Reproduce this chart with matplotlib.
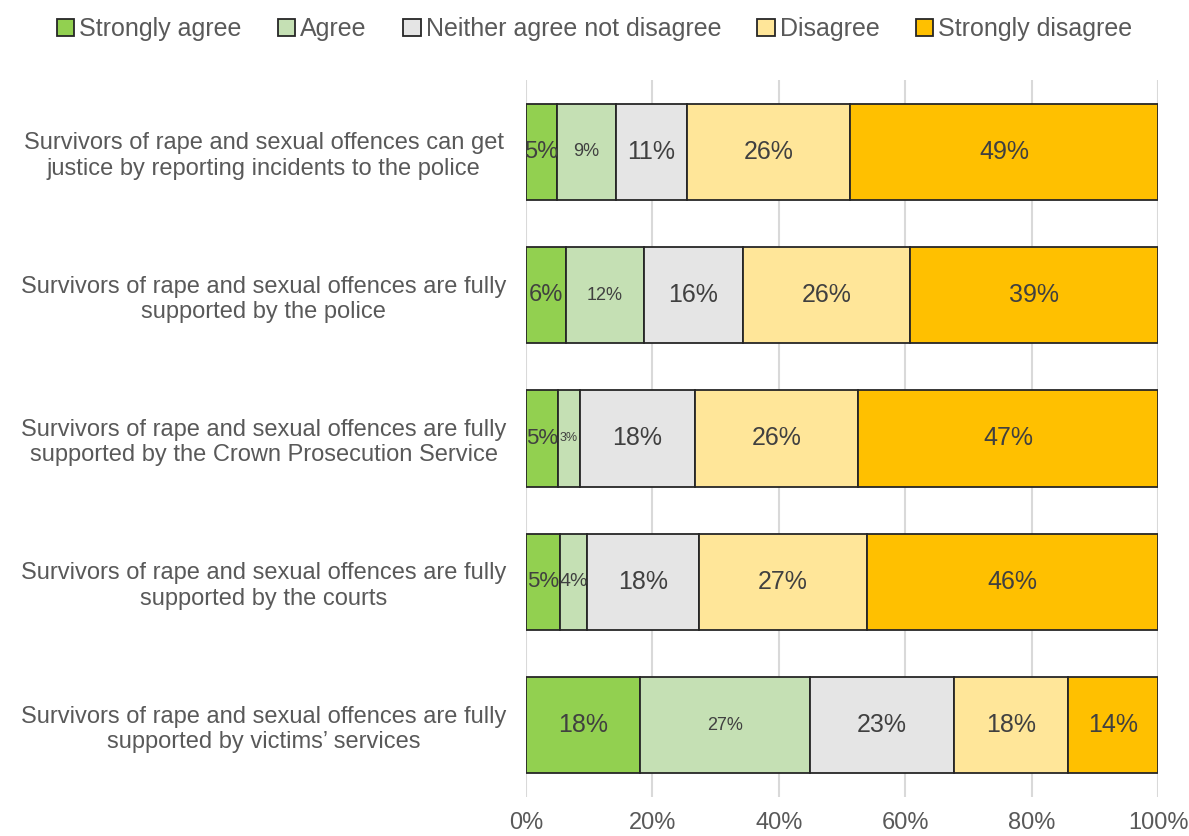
import matplotlib.pyplot as plt
import numpy as np

plt.rcParams["font.family"] = ["Liberation Sans", "DejaVu Sans"]

statements = [
    "Survivors of rape and sexual offences can get\njustice by reporting incidents to the police",
    "Survivors of rape and sexual offences are fully\nsupported by the police",
    "Survivors of rape and sexual offences are fully\nsupported by the Crown Prosecution Service",
    "Survivors of rape and sexual offences are fully\nsupported by the courts",
    "Survivors of rape and sexual offences are fully\nsupported by victims\u2019 services",
]
responses = ["Strongly agree", "Agree", "Neither agree not disagree", "Disagree", "Strongly disagree"]

strongly_agree = [4.9, 6.3, 5.1, 5.4, 18.0]
agree = [9.4, 12.3, 3.4, 4.3, 26.9]
neither = [11.1, 15.8, 18.2, 17.6, 22.9]
disagree = [25.9, 26.4, 25.9, 26.7, 18.0]
strongly_disagree = [48.7, 39.2, 47.4, 46.0, 14.2]

colors = ["#92D050", "#C5E0B4", "#E5E5E5", "#FFE699", "#FFC000"]
# label font size per segment (small segments get smaller text)
label_sizes = [
    [17, 13, 18, 18, 18],
    [17, 13, 18, 18, 18],
    [16, 9, 18, 18, 18],
    [16, 14, 18, 18, 18],
    [18, 13, 18, 18, 18],
]

series = [strongly_agree, agree, neither, disagree, strongly_disagree]

fig = plt.figure(figsize=(11.89, 8.36), dpi=100)
ax = fig.add_axes([526 / 1189, 1 - 797 / 836, (1158 - 526) / 1189, (797 - 80) / 836])

y = np.arange(len(statements))
left = np.zeros(len(statements))
for j, (name, vals, col) in enumerate(zip(responses, series, colors)):
    vals = np.array(vals)
    ax.barh(y, vals, left=left, height=0.67, color=col, edgecolor="#262626",
            linewidth=1.3, label=name, zorder=3)
    for i, v in enumerate(vals):
        ax.text(left[i] + v / 2, y[i], f"{v:.0f}%", ha="center", va="center",
                fontsize=label_sizes[i][j], color="#404040", zorder=4)
    left += vals

ax.set_xlim(0, 100)
ax.set_ylim(4.5, -0.5)
ax.set_xticks(np.arange(0, 101, 20))
ax.set_xticklabels([f"{t}%" for t in range(0, 101, 20)], fontsize=17, color="#595959")
ax.set_yticks(y)
ax.set_yticklabels(statements, fontsize=17, color="#595959", ha="center")
ax.tick_params(axis="y", length=0, pad=189)
ax.tick_params(axis="x", length=0, pad=11)
ax.grid(axis="x", color="#D9D9D9", linewidth=1.5, zorder=0)
for s in ax.spines.values():
    s.set_visible(False)

fig.legend(loc="center", bbox_to_anchor=(0.5, 1 - 29 / 836), ncol=5, frameon=False,
           fontsize=18, handlelength=0.7, handleheight=0.7, handletextpad=0.2,
           columnspacing=1.45, labelcolor="#595959")

fig.savefig("out.png", dpi=100)
